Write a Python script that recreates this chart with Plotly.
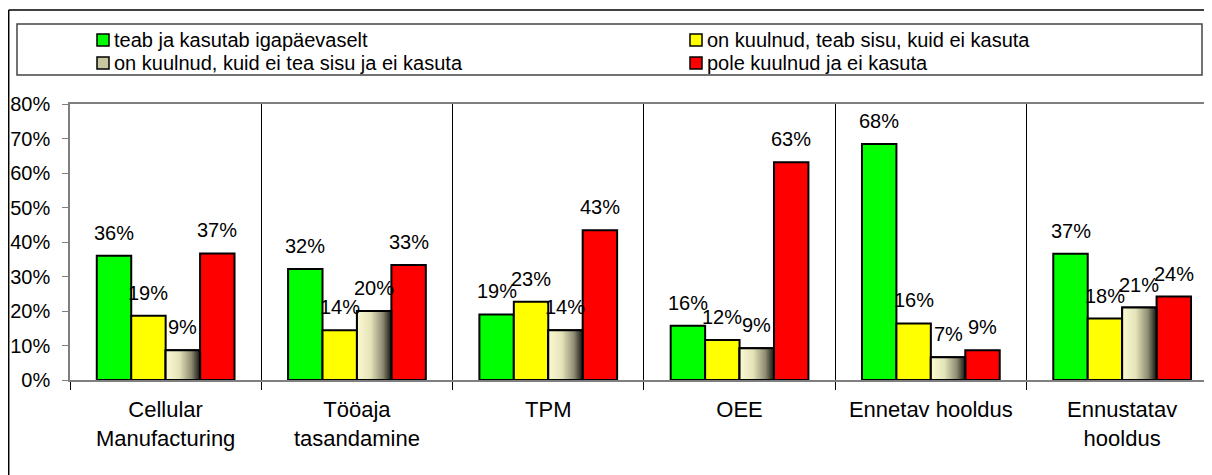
import plotly.graph_objects as go

categories = ["Cellular<br>Manufacturing", "Tööaja<br>tasandamine", "TPM", "OEE",
              "Ennetav hooldus", "Ennustatav<br>hooldus"]
series_names = ["teab ja kasutab igapäevaselt",
                "on kuulnud, teab sisu, kuid ei kasuta",
                "on kuulnud, kuid ei tea sisu ja ei kasuta",
                "pole kuulnud ja ei kasuta"]
teab_kasutab = [36.0, 32.2, 19.0, 15.7, 68.4, 36.6]
teab_ei_kasuta = [18.6, 14.4, 22.7, 11.6, 16.4, 17.8]
ei_tea_sisu = [8.6, 20.0, 14.4, 9.2, 6.6, 21.0]
pole_kuulnud = [36.7, 33.3, 43.4, 63.1, 8.6, 24.2]
y_tick_vals = [0, 10, 20, 30, 40, 50, 60, 70, 80]

colors = ["#00ff00", "#ffff00", "#c9c7a2", "#ff0000"]
series_values = [teab_kasutab, teab_ei_kasuta, ei_tea_sisu, pole_kuulnud]

FONT = "Liberation Sans, Arial, sans-serif"
idx = list(range(len(categories)))

BARGAP = 0.28
n_series = len(series_values)
bar_w = (1 - BARGAP) / n_series

# the page body has an 8px margin; the figure is sized to fill the rest of the window
OFF = 8
W, H = 1212 - OFF, 475 - OFF
L = 70 - OFF
T = 104 - OFF
B = H - (380 - OFF)
pw = W - L
ph = H - T - B
cat_px = 191.3


def px(x):
    """page x (pixels) -> paper x"""
    return (x - OFF - L) / pw


def py(y):
    """page y (pixels) -> paper y"""
    return (H - B - (y - OFF)) / ph


fig = go.Figure()
annotations = []
for k, (name, vals, col) in enumerate(zip(series_names, series_values, colors)):
    fig.add_trace(go.Bar(
        x=idx, y=vals, name=name,
        marker=dict(color=col, line=dict(color="black", width=2)),
        showlegend=False, hoverinfo="skip",
    ))
    off = -(1 - BARGAP) / 2 + k * bar_w + bar_w / 2
    for i, v in zip(idx, vals):
        annotations.append(dict(
            x=i + off, y=v, xref="x", yref="y", text=f"{round(v)}%",
            showarrow=False, yanchor="bottom", xanchor="center", yshift=10,
            font=dict(family=FONT, size=20, color="black"),
        ))

# gradient overlay for the third series (same group geometry as the bars)
k = 2
off = -(1 - BARGAP) / 2 + k * bar_w
for i, v in zip(idx, ei_tea_sisu):
    x0, x1 = i + off, i + off + bar_w
    fig.add_trace(go.Scatter(
        x=[x0, x1, x1, x0, x0], y=[0, 0, v, v, 0],
        mode="lines", fill="toself",
        fillgradient=dict(type="horizontal",
                          colorscale=[[0, "#fbfad2"], [0.4, "#e4e2b8"],
                                      [0.75, "#8e8c72"], [1, "#141410"]]),
        line=dict(color="black", width=2),
        showlegend=False, hoverinfo="skip",
    ))

# outer chart border (only top and left edges fall inside the window) and legend box
shapes = [
    dict(type="line", xref="paper", yref="paper",
         x0=px(8.7), x1=px(1212), y0=py(10), y1=py(10),
         line=dict(color="black", width=1.5), layer="below"),
    dict(type="line", xref="paper", yref="paper",
         x0=px(8.7), x1=px(8.7), y0=py(10), y1=py(475),
         line=dict(color="black", width=1.5), layer="below"),
    dict(type="rect", xref="paper", yref="paper",
         x0=px(17), x1=px(1202), y0=py(75), y1=py(24),
         line=dict(color="#444444", width=1.5), fillcolor="rgba(0,0,0,0)", layer="below"),
]

# legend (two columns, two rows)
legend_cols_px = [97, 690]
legend_rows_px = [40, 63]
positions = [(0, 0), (1, 0), (0, 1), (1, 1)]
for (c, r), name, col in zip(positions, series_names, colors):
    mx, my = legend_cols_px[c], legend_rows_px[r]
    shapes.append(dict(type="rect", xref="paper", yref="paper",
                       x0=px(mx), x1=px(mx + 12), y0=py(my + 6), y1=py(my - 6),
                       line=dict(color="black", width=1.5), fillcolor=col))
    annotations.append(dict(x=px(mx + 15), y=py(my), xref="paper", yref="paper",
                            text=name, showarrow=False, xanchor="left", yanchor="middle",
                            font=dict(family=FONT, size=20, color="black")))

fig.update_layout(
    width=W, height=H,
    margin=dict(l=L, r=0, t=T, b=B, pad=0, autoexpand=False),
    paper_bgcolor="white", plot_bgcolor="white",
    barmode="group", bargap=BARGAP, bargroupgap=0,
    font=dict(family=FONT, size=20, color="black"),
    showlegend=False,
    xaxis=dict(
        range=[-0.5, -0.5 + pw / cat_px],
        tickmode="array", tickvals=idx, ticktext=categories,
        ticks="", showgrid=False, zeroline=False,
        ticklabelstandoff=9,
        showline=True, linecolor="#7f7f7f", linewidth=1.5, mirror=True,
        tickfont=dict(family=FONT, size=22, color="black"),
        minor=dict(tickvals=[-0.5, 0.5, 1.5, 2.5, 3.5, 4.5],
                   showgrid=True, gridcolor="black", gridwidth=1,
                   ticks="outside", ticklen=8, tickcolor="black", tickwidth=1),
        fixedrange=True, automargin=False,
    ),
    yaxis=dict(
        range=[0, 80], tickmode="array", tickvals=y_tick_vals,
        ticktext=[f"{v}%" for v in y_tick_vals],
        ticks="outside", ticklen=6, tickcolor="#7f7f7f",
        ticklabelstandoff=8,
        showgrid=False, zeroline=False,
        showline=True, linecolor="#7f7f7f", linewidth=1.5,
        tickfont=dict(family=FONT, size=20, color="black"),
        fixedrange=True, automargin=False,
    ),
    shapes=shapes,
    annotations=annotations,
)

fig.write_html("out.html")
